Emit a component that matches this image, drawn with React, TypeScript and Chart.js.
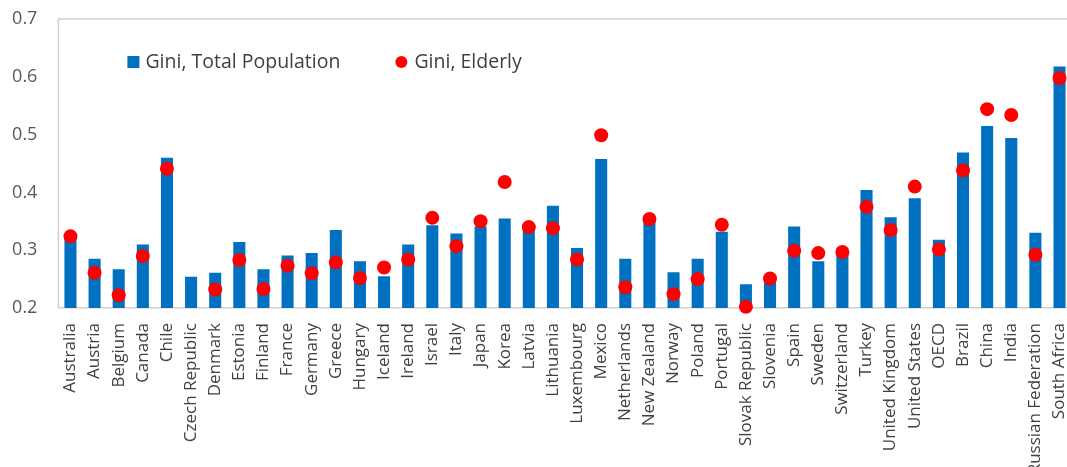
import React, { useEffect, useRef } from "react";
import { Chart, registerables } from "chart.js";

Chart.register(...registerables);

const categories = [
  "Australia", "Austria", "Belgium", "Canada", "Chile", "Czech Republic", "Denmark",
  "Estonia", "Finland", "France", "Germany", "Greece", "Hungary", "Iceland", "Ireland",
  "Israel", "Italy", "Japan", "Korea", "Latvia", "Lithuania", "Luxembourg", "Mexico",
  "Netherlands", "New Zealand", "Norway", "Poland", "Portugal", "Slovak Republic",
  "Slovenia", "Spain", "Sweden", "Switzerland", "Turkey", "United Kingdom",
  "United States", "OECD", "Brazil", "China", "India", "Russian Federation", "South Africa",
];

const giniTotal = [
  0.321, 0.285, 0.267, 0.310, 0.460, 0.254, 0.261, 0.314, 0.267, 0.291, 0.295, 0.335,
  0.281, 0.255, 0.310, 0.343, 0.329, 0.341, 0.355, 0.336, 0.377, 0.304, 0.458, 0.285,
  0.350, 0.262, 0.285, 0.332, 0.241, 0.248, 0.341, 0.281, 0.295, 0.404, 0.357, 0.390,
  0.318, 0.469, 0.515, 0.494, 0.330, 0.618,
];

const giniElderly: (number | null)[] = [
  0.324, 0.261, 0.222, 0.290, 0.441, null, 0.232, 0.283, 0.233, 0.273, 0.260, 0.279,
  0.252, 0.270, 0.284, 0.356, 0.307, 0.350, 0.418, 0.340, 0.338, 0.284, 0.499, 0.236,
  0.354, 0.224, 0.250, 0.344, 0.202, 0.251, 0.299, 0.295, 0.297, 0.375, 0.335, 0.410,
  0.301, 0.438, 0.544, 0.534, 0.292, 0.598,
];

const yTicks = [0.2, 0.3, 0.4, 0.5, 0.6, 0.7];

const FONT = "'Open Sans', 'Noto Sans', sans-serif";

const framePlugin = {
  id: "frame",
  beforeDatasetsDraw(chart: any) {
    const { ctx, chartArea } = chart;
    ctx.save();
    ctx.strokeStyle = "#D0D0D0";
    ctx.lineWidth = 1.5;
    ctx.beginPath();
    ctx.moveTo(chartArea.left, chartArea.bottom);
    ctx.lineTo(chartArea.left, chartArea.top);
    ctx.lineTo(chartArea.right, chartArea.top);
    ctx.stroke();
    ctx.restore();
  },
};

const insideLegend = {
  id: "insideLegend",
  afterDraw(chart: any) {
    const { ctx, chartArea } = chart;
    const ds = chart.data.datasets;
    const y = chartArea.top + 43;
    ctx.save();
    ctx.font = `19.5px ${FONT}`;
    ctx.textBaseline = "middle";
    // bar entry
    let x = chartArea.left + 69;
    ctx.fillStyle = ds[0].backgroundColor;
    ctx.fillRect(x, y - 6, 12, 12);
    ctx.fillStyle = "#404040";
    ctx.fillText(ds[0].label, x + 18, y);
    // point entry
    x = chartArea.left + 343;
    ctx.fillStyle = ds[1].pointBackgroundColor;
    ctx.beginPath();
    ctx.arc(x, y, 6, 0, Math.PI * 2);
    ctx.fill();
    ctx.fillStyle = "#404040";
    ctx.fillText(ds[1].label, x + 13, y);
    ctx.restore();
  },
};

export default function App() {
  const ref = useRef<HTMLCanvasElement | null>(null);

  useEffect(() => {
    if (!ref.current) return;
    const chart = new Chart(ref.current, {
      type: "bar",
      data: {
        labels: categories,
        datasets: [
          {
            type: "bar",
            label: "Gini, Total Population",
            data: giniTotal,
            backgroundColor: "#0070C0",
            borderWidth: 0,
            barPercentage: 0.5,
            categoryPercentage: 1,
            order: 2,
          } as any,
          {
            type: "line",
            label: "Gini, Elderly",
            data: giniElderly,
            showLine: false,
            pointRadius: 7,
            pointHoverRadius: 7,
            pointBackgroundColor: "#FF0000",
            pointBorderWidth: 0,
            borderColor: "#FF0000",
            backgroundColor: "#FF0000",
            clip: false,
            order: 1,
          } as any,
        ],
      },
      options: {
        responsive: false,
        animation: false,
        devicePixelRatio: 1,
        layout: { padding: { top: 19, right: 5, left: 0, bottom: 0 } },
        plugins: {
          legend: { display: false },
          tooltip: { enabled: false },
        },
        scales: {
          x: {
            grid: { display: false, drawTicks: false },
            border: { display: true, color: "#D0D0D0", width: 1.5 },
            ticks: {
              autoSkip: false,
              maxRotation: 90,
              minRotation: 90,
              padding: 15,
              color: "#404040",
              font: { family: FONT, size: 17 },
            },
            afterFit(scale: any) {
              scale.height = 159;
              scale.paddingTop = 0;
              scale.paddingBottom = 0;
            },
          },
          y: {
            min: 0.2,
            max: 0.7,
            grid: { display: false, drawTicks: false },
            border: { display: false },
            afterBuildTicks(scale: any) {
              scale.ticks = yTicks.map((v) => ({ value: v }));
            },
            ticks: {
              padding: 21,
              color: "#595959",
              font: { family: FONT, size: 18 },
              callback: (v: any) => Number(v).toFixed(1),
            },
            afterFit(scale: any) {
              scale.width = 58.4;
              scale.paddingTop = 0;
              scale.paddingBottom = 0;
            },
          },
        },
      },
      plugins: [framePlugin, insideLegend],
    });
    return () => chart.destroy();
  }, []);

  return (
    <div
      style={{
        position: "fixed",
        left: 0,
        top: 0,
        width: 1067,
        height: 467,
        overflow: "hidden",
        background: "#fff",
      }}
    >
      <canvas ref={ref} width={1095} height={467} style={{ width: 1095, height: 467, display: "block" }} />
    </div>
  );
}
